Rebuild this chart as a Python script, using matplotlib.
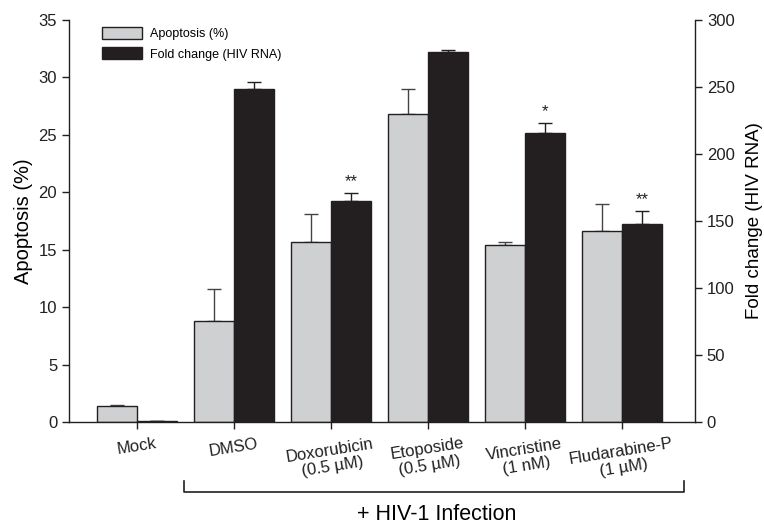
import numpy as np
import matplotlib.pyplot as plt
from matplotlib.patches import Patch

plt.rcParams['font.family'] = ['Liberation Sans', 'DejaVu Sans']

groups = ['Mock', 'DMSO', 'Doxorubicin\n(0.5 µM)', 'Etoposide\n(0.5 µM)',
          'Vincristine\n(1 nM)', 'Fludarabine-P\n(1 µM)']
apoptosis = [1.4, 8.8, 15.7, 26.8, 15.4, 16.6]
apoptosis_err = [0.05, 2.8, 2.4, 2.2, 0.3, 2.4]
fold = [1.0, 248.5, 165.0, 276.0, 216.0, 147.5]
fold_err = [0.0, 5.0, 6.0, 1.5, 7.0, 10.0]
stars = ['', '', '**', '', '*', '**']

x = np.arange(len(groups))
w = 0.41
gray = '#cfd0d2'
black = '#231f20'

fig = plt.figure(figsize=(7.64, 5.24), dpi=100)
ax = fig.add_axes([0.0903, 0.1947, 0.8194, 0.7671])
ax2 = ax.twinx()

ax.bar(x - w / 2, apoptosis, w, color=gray, edgecolor=black, linewidth=1.0, zorder=2)
ax.errorbar(x - w / 2, apoptosis, yerr=[np.zeros(len(x)), apoptosis_err], fmt='none',
            ecolor='#444444', elinewidth=1.0, capsize=5, capthick=1.0, zorder=1)
ax2.bar(x + w / 2, fold, w, color=black, edgecolor=black, linewidth=1.0, zorder=2)
ax2.errorbar(x + w / 2, fold, yerr=[np.zeros(len(x)), fold_err], fmt='none',
             ecolor=black, elinewidth=1.0, capsize=5, capthick=1.0, zorder=1)

for i, s in enumerate(stars):
    if s:
        ax2.text(x[i] + w / 2, fold[i] + fold_err[i] + 3, s, ha='center', va='bottom',
                 fontsize=12, color=black)

ax.set_xlim(-0.70, 5.75)
ax.set_ylim(0, 35)
ax2.set_ylim(0, 300)
ax.set_yticks(np.arange(0, 36, 5))
ax2.set_yticks(np.arange(0, 301, 50))
ax.set_xticks(x)
ax.set_xticklabels(groups, rotation=9, ha='center', fontsize=12, linespacing=1.15)

for a in (ax, ax2):
    a.spines['top'].set_visible(False)
    for sp in a.spines.values():
        sp.set_color(black)
        sp.set_linewidth(1.0)
ax.spines['right'].set_visible(False)
ax2.spines['left'].set_visible(False)
ax2.spines['bottom'].set_visible(False)
ax.tick_params(axis='y', labelsize=12, length=5, width=1.0, colors=black)
ax.tick_params(axis='x', length=5, width=1.0, colors=black, pad=5)
ax2.tick_params(axis='y', labelsize=12, length=5, width=1.0, colors=black)

ax.set_ylabel('Apoptosis (%)', fontsize=14.5, labelpad=4)
ax2.set_ylabel('Fold change (HIV RNA)', fontsize=13.5, labelpad=8)

handles = [Patch(facecolor=gray, edgecolor=black, linewidth=1.0),
           Patch(facecolor=black, edgecolor=black, linewidth=1.0)]
ax.legend(handles, ['Apoptosis (%)', 'Fold change (HIV RNA)'], loc='upper left',
          bbox_to_anchor=(0.035, 1.01), frameon=False, fontsize=9,
          handlelength=3.2, handleheight=1.1, handletextpad=0.6, labelspacing=0.55)

# bracket under treated groups
fig.lines.append(plt.Line2D([184 / 764, 184 / 764, 684 / 764, 684 / 764],
                            [1 - 481 / 524, 1 - 492 / 524, 1 - 492 / 524, 1 - 481 / 524],
                            transform=fig.transFigure, color=black, linewidth=1.2))
fig.text(437 / 764, 1 - 514 / 524, '+ HIV-1 Infection', ha='center', va='center', fontsize=15.5)

fig.savefig('out.png', dpi=100)
